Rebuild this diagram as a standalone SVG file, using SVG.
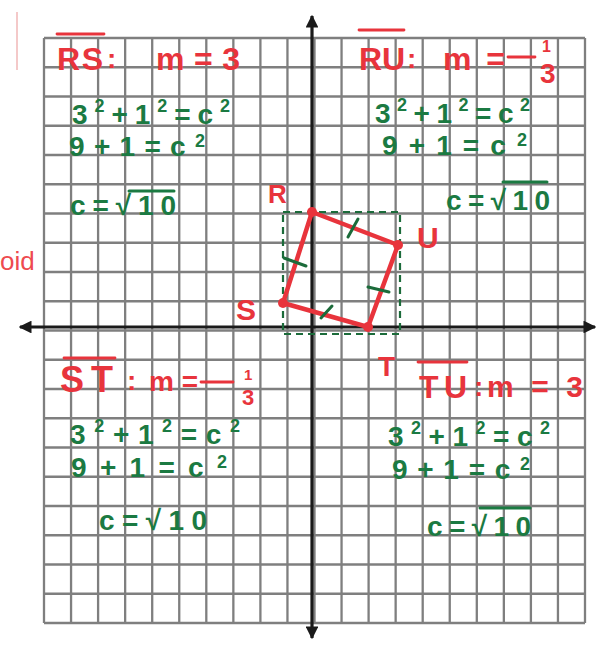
<svg xmlns="http://www.w3.org/2000/svg" width="600" height="647" viewBox="0 0 600 647">
<defs>
<style>
.grid line{stroke:#7f7f7f;stroke-width:2.3}
.axis{stroke:#1a1a1a;stroke-width:3.2;fill:none}
.red{fill:#e8343c;font-family:"Liberation Sans","DejaVu Sans",sans-serif;font-weight:bold}
.redl{stroke:#e8343c;stroke-width:2.8;fill:none;stroke-linecap:round}
.grn{fill:#1b7a42;font-family:"Liberation Sans","DejaVu Sans",sans-serif;font-size:28px;font-weight:bold}
.grnl{stroke:#1b7a42;stroke-width:3;fill:none;stroke-linecap:round}
.edge{stroke:#e8343c;stroke-width:4.5;fill:none;stroke-linecap:round}
.dash{stroke:#1b6b3a;stroke-width:2.2;fill:none;stroke-dasharray:7 5}
.tick{stroke:#1b6b3a;stroke-width:3;stroke-linecap:round}
.sup{font-size:18px}
</style>
<marker id="ah" viewBox="0 0 10 10" refX="9" refY="5" markerWidth="4" markerHeight="4" orient="auto-start-reverse" markerUnits="strokeWidth">
<path d="M0,0 L10,5 L0,10 Z" fill="#1a1a1a"/>
</marker>
</defs>
<rect width="600" height="647" fill="#ffffff"/>
<line x1="17" y1="12" x2="17" y2="70" stroke="#f4c9c9" stroke-width="2"/>
<text x="0" y="270" font-size="26" fill="#ee4a4f" font-family="Liberation Sans, DejaVu Sans, sans-serif">oid</text>

<g id="grid" class="grid">
<line x1="44" y1="38" x2="44" y2="623"/><line x1="71.05" y1="38" x2="71.05" y2="623"/><line x1="98.1" y1="38" x2="98.1" y2="623"/><line x1="125.15" y1="38" x2="125.15" y2="623"/><line x1="152.2" y1="38" x2="152.2" y2="623"/><line x1="179.25" y1="38" x2="179.25" y2="623"/><line x1="206.3" y1="38" x2="206.3" y2="623"/><line x1="233.35" y1="38" x2="233.35" y2="623"/><line x1="260.4" y1="38" x2="260.4" y2="623"/><line x1="287.45" y1="38" x2="287.45" y2="623"/><line x1="314.5" y1="38" x2="314.5" y2="623"/><line x1="341.55" y1="38" x2="341.55" y2="623"/><line x1="368.6" y1="38" x2="368.6" y2="623"/><line x1="395.65" y1="38" x2="395.65" y2="623"/><line x1="422.7" y1="38" x2="422.7" y2="623"/><line x1="449.75" y1="38" x2="449.75" y2="623"/><line x1="476.8" y1="38" x2="476.8" y2="623"/><line x1="503.85" y1="38" x2="503.85" y2="623"/><line x1="530.9" y1="38" x2="530.9" y2="623"/><line x1="557.95" y1="38" x2="557.95" y2="623"/><line x1="585" y1="38" x2="585" y2="623"/>
<line x1="44" y1="38" x2="585" y2="38"/><line x1="44" y1="67.25" x2="585" y2="67.25"/><line x1="44" y1="96.5" x2="585" y2="96.5"/><line x1="44" y1="125.75" x2="585" y2="125.75"/><line x1="44" y1="155" x2="585" y2="155"/><line x1="44" y1="184.25" x2="585" y2="184.25"/><line x1="44" y1="213.5" x2="585" y2="213.5"/><line x1="44" y1="242.75" x2="585" y2="242.75"/><line x1="44" y1="272" x2="585" y2="272"/><line x1="44" y1="301.25" x2="585" y2="301.25"/><line x1="44" y1="330.5" x2="585" y2="330.5"/><line x1="44" y1="359.75" x2="585" y2="359.75"/><line x1="44" y1="389" x2="585" y2="389"/><line x1="44" y1="418.25" x2="585" y2="418.25"/><line x1="44" y1="447.5" x2="585" y2="447.5"/><line x1="44" y1="476.75" x2="585" y2="476.75"/><line x1="44" y1="506" x2="585" y2="506"/><line x1="44" y1="535.25" x2="585" y2="535.25"/><line x1="44" y1="564.5" x2="585" y2="564.5"/><line x1="44" y1="593.75" x2="585" y2="593.75"/><line x1="44" y1="623" x2="585" y2="623"/>
</g>

<g id="axes">
<line class="axis" x1="312" y1="638" x2="312" y2="16" marker-start="url(#ah)" marker-end="url(#ah)"/>
<line class="axis" x1="20" y1="327" x2="595" y2="327" marker-start="url(#ah)" marker-end="url(#ah)"/>
</g>

<g id="bounding-box">
<rect class="dash" x="283" y="212" width="117" height="122"/>
</g>

<g id="connectors">
<line class="edge" x1="312" y1="212" x2="398" y2="245"/>
<line class="edge" x1="398" y1="245" x2="368" y2="327"/>
<line class="edge" x1="368" y1="327" x2="283" y2="303"/>
<line class="edge" x1="283" y1="303" x2="312" y2="212"/>
<line class="tick" x1="348" y1="237" x2="358" y2="219"/>
<line class="tick" x1="284" y1="258" x2="306" y2="266"/>
<line class="tick" x1="368" y1="287" x2="389" y2="292"/>
<line class="tick" x1="321" y1="318" x2="332" y2="306"/>
</g>

<g id="vertex-R"><circle cx="312" cy="212" r="5" fill="#e8343c"/><text class="red" x="268" y="203" font-size="26" font-weight="normal">R</text></g>
<g id="vertex-U"><circle cx="398" cy="245" r="5" fill="#e8343c"/><text class="red" x="417" y="248" font-size="30" font-weight="normal">U</text></g>
<g id="vertex-T"><circle cx="368" cy="327" r="5" fill="#e8343c"/><text class="red" x="378" y="376" font-size="28" font-weight="normal">T</text></g>
<g id="vertex-S"><circle cx="283" cy="303" r="5" fill="#e8343c"/><text class="red" x="236" y="320" font-size="30" font-weight="normal">S</text></g>

<g id="note-RS">
<text class="red" x="57" y="70" font-size="32" textLength="46">RS</text>
<line class="redl" x1="57" y1="34" x2="104" y2="34"/>
<text class="red" x="107" y="68" font-size="28">:</text>
<text class="red" x="156" y="70" font-size="32" textLength="84">m=3</text>
<text class="grn" x="72" y="124" font-size="31" textLength="158">3<tspan class="sup" dy="-12">2</tspan><tspan dy="12">+1</tspan><tspan class="sup" dy="-12">2</tspan><tspan dy="12">=c</tspan><tspan class="sup" dy="-12">2</tspan></text>
<text class="grn" x="69" y="156" font-size="27" textLength="136">9+1=c<tspan class="sup" dy="-9">2</tspan></text>
<text class="grn" x="70" y="215" textLength="106">c=√10</text>
<line class="grnl" x1="129" y1="191" x2="174" y2="191"/>
</g>

<g id="note-RU">
<text class="red" x="359" y="70" font-size="32" textLength="46">RU</text>
<line class="redl" x1="359" y1="30" x2="404" y2="30"/>
<text class="red" x="407" y="68" font-size="28">:</text>
<text class="red" x="443" y="70" font-size="32" textLength="62">m=</text>
<line class="redl" x1="508" y1="57" x2="535" y2="57"/>
<text class="red" x="542" y="52" font-size="16">1</text>
<text class="red" x="540" y="83" font-size="28">3</text>
<text class="grn" x="375" y="123" font-size="31" textLength="155">3<tspan class="sup" dy="-12">2</tspan><tspan dy="12">+1</tspan><tspan class="sup" dy="-12">2</tspan><tspan dy="12">=c</tspan><tspan class="sup" dy="-12">2</tspan></text>
<text class="grn" x="382" y="155" font-size="27" textLength="145">9+1=c<tspan class="sup" dy="-9">2</tspan></text>
<text class="grn" x="446" y="210" textLength="104">c=√10</text>
<line class="grnl" x1="503" y1="182" x2="547" y2="182"/>
</g>

<g id="note-ST">
<text class="red" x="60" y="392" font-size="36" textLength="53">ST</text>
<line class="redl" x1="64" y1="358" x2="115" y2="358"/>
<text class="red" x="127" y="390" font-size="28">:</text>
<text class="red" x="149" y="391" font-size="28" textLength="49">m=</text>
<line class="redl" x1="201" y1="382" x2="233" y2="382"/>
<text class="red" x="244" y="380" font-size="15">1</text>
<text class="red" x="242" y="405" font-size="22">3</text>
<text class="grn" x="70" y="444" font-size="31" textLength="170">3<tspan class="sup" dy="-12">2</tspan><tspan dy="12">+1</tspan><tspan class="sup" dy="-12">2</tspan><tspan dy="12">=c</tspan><tspan class="sup" dy="-12">2</tspan></text>
<text class="grn" x="71" y="477" font-size="27" textLength="156">9+1=c<tspan class="sup" dy="-9">2</tspan></text>
<text class="grn" x="99" y="530" textLength="108">c=√10</text>
</g>

<g id="note-TU">
<text class="red" x="419" y="398" font-size="32" textLength="48">TU</text>
<line class="redl" x1="418" y1="362" x2="467" y2="362"/>
<text class="red" x="474" y="396" font-size="28">:</text>
<text class="red" x="487" y="397" font-size="30" textLength="96">m=3</text>
<text class="grn" x="388" y="446" font-size="31" textLength="162">3<tspan class="sup" dy="-12">2</tspan><tspan dy="12">+1</tspan><tspan class="sup" dy="-12">2</tspan><tspan dy="12">=c</tspan><tspan class="sup" dy="-12">2</tspan></text>
<text class="grn" x="392" y="479" font-size="27" textLength="138">9+1=c<tspan class="sup" dy="-9">2</tspan></text>
<text class="grn" x="427" y="536" textLength="104">c=√10</text>
<line class="grnl" x1="480" y1="508" x2="530" y2="508"/>
</g>
</svg>
